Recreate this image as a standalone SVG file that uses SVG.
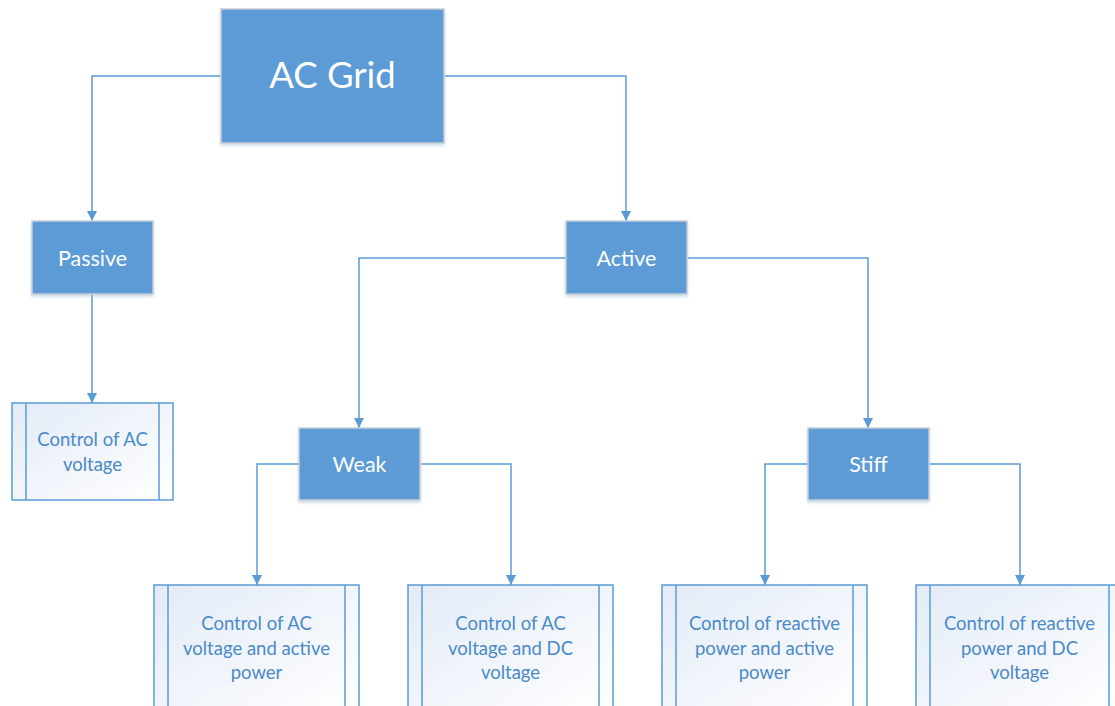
<svg xmlns="http://www.w3.org/2000/svg" width="1115" height="706" viewBox="0 0 1115 706">
<defs>
<linearGradient id="g" x1="0" y1="0" x2="1" y2="1">
<stop offset="0" stop-color="#e3ebf7"/>
<stop offset="1" stop-color="#ffffff"/>
</linearGradient>
<marker id="arr" viewBox="0 0 10 10" refX="10" refY="5" markerWidth="10" markerHeight="10" markerUnits="userSpaceOnUse" orient="auto">
<path d="M0,0 L10,5 L0,10 z" fill="#5b9bd5"/>
</marker>
<filter id="sh" x="-10%" y="-10%" width="120%" height="130%">
<feDropShadow dx="0" dy="2" stdDeviation="1.5" flood-color="#9cb7d8" flood-opacity="0.5"/>
</filter>
</defs>
<style>
.sol{fill:#5b9bd5;stroke:#c8ced6;stroke-width:1.5;filter:url(#sh)}
.pro{fill:url(#g);stroke:#5b9bd5;stroke-width:1.5}
.ln{stroke:#5b9bd5;stroke-width:1.5;fill:none}
.wt{fill:#ffffff;font-family:Lato,"Open Sans",sans-serif;text-anchor:middle}
.bt{fill:#4a8ac9;font-family:Lato,"Open Sans",sans-serif;font-size:18.5px;text-anchor:middle}
.c{stroke:#5b9bd5;stroke-width:1.5;fill:none;marker-end:url(#arr)}
</style>
<g id="connectors">
<path class="c" d="M221,76 H92 V221"/>
<path class="c" d="M444,76 H626 V221"/>
<path class="c" d="M92,294 V403"/>
<path class="c" d="M566,258 H359 V428"/>
<path class="c" d="M687,258 H868 V428"/>
<path class="c" d="M299,464 H257 V585"/>
<path class="c" d="M420,464 H511 V585"/>
<path class="c" d="M808,464 H765 V585"/>
<path class="c" d="M929,464 H1020 V585"/>
</g>
<g id="acgrid">
<rect class="sol" x="221" y="9" width="223" height="134"/>
<text class="wt" x="332.5" y="88" font-size="36.5">AC Grid</text>
</g>
<g id="passive">
<rect class="sol" x="32" y="221" width="121" height="73"/>
<text class="wt" x="92.5" y="265.5" font-size="21.5">Passive</text>
</g>
<g id="active">
<rect class="sol" x="566" y="221" width="121" height="73"/>
<text class="wt" x="626.5" y="265.5" font-size="21.5">Active</text>
</g>
<g id="weak">
<rect class="sol" x="299" y="428" width="121" height="72"/>
<text class="wt" x="359.5" y="471.5" font-size="21.5">Weak</text>
</g>
<g id="stiff">
<rect class="sol" x="808" y="428" width="121" height="72"/>
<text class="wt" x="868.5" y="471.5" font-size="21.5">Stiff</text>
</g>
<g id="ctrl-ac">
<rect class="pro" x="12" y="403" width="161" height="97"/>
<line class="ln" x1="26" y1="403" x2="26" y2="500"/>
<line class="ln" x1="159" y1="403" x2="159" y2="500"/>
<text class="bt" x="92.5" y="446">Control of AC</text>
<text class="bt" x="92.5" y="471">voltage</text>
</g>
<g id="ctrl-ac-active">
<rect class="pro" x="154" y="585" width="205" height="130"/>
<line class="ln" x1="168" y1="585" x2="168" y2="715"/>
<line class="ln" x1="345" y1="585" x2="345" y2="715"/>
<text class="bt" x="256.5" y="630">Control of AC</text>
<text class="bt" x="256.5" y="655">voltage and active</text>
<text class="bt" x="256.5" y="679">power</text>
</g>
<g id="ctrl-ac-dc">
<rect class="pro" x="408" y="585" width="205" height="130"/>
<line class="ln" x1="422" y1="585" x2="422" y2="715"/>
<line class="ln" x1="599" y1="585" x2="599" y2="715"/>
<text class="bt" x="510.5" y="630">Control of AC</text>
<text class="bt" x="510.5" y="655">voltage and DC</text>
<text class="bt" x="510.5" y="679">voltage</text>
</g>
<g id="ctrl-q-active">
<rect class="pro" x="662" y="585" width="205" height="130"/>
<line class="ln" x1="676" y1="585" x2="676" y2="715"/>
<line class="ln" x1="853" y1="585" x2="853" y2="715"/>
<text class="bt" x="764.5" y="630">Control of reactive</text>
<text class="bt" x="764.5" y="655">power and active</text>
<text class="bt" x="764.5" y="679">power</text>
</g>
<g id="ctrl-q-dc">
<rect class="pro" x="916" y="585" width="205" height="130"/>
<line class="ln" x1="930" y1="585" x2="930" y2="715"/>
<line class="ln" x1="1109" y1="585" x2="1109" y2="715"/>
<text class="bt" x="1019.5" y="630">Control of reactive</text>
<text class="bt" x="1019.5" y="655">power and DC</text>
<text class="bt" x="1019.5" y="679">voltage</text>
</g>
</svg>
